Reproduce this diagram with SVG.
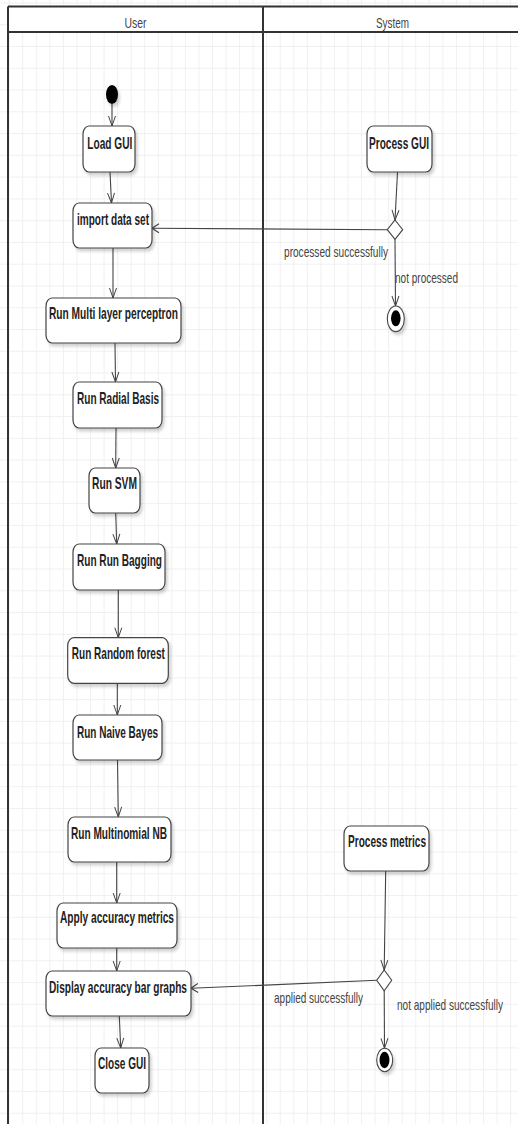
<svg xmlns="http://www.w3.org/2000/svg" width="518" height="1124" viewBox="0 0 518 1124">
  <defs>
    <pattern id="grid" patternUnits="userSpaceOnUse" x="8.75" y="2.46" width="13.55" height="21.77">
      <path d="M0.5,0 V21.77 M0,0.5 H13.55" fill="none" stroke="#f0f0f0" stroke-width="1"/>
    </pattern>
    <filter id="shadow" x="-20%" y="-20%" width="150%" height="150%">
      <feDropShadow dx="2" dy="3" stdDeviation="1.5" flood-color="#000" flood-opacity="0.18"/>
    </filter>
    <marker id="arrV" markerUnits="userSpaceOnUse" markerWidth="12" markerHeight="10" refX="10" refY="4" orient="auto" overflow="visible">
      <path d="M0,0.5 L10,4 L0,7.5" fill="none" stroke="#444" stroke-width="1"/>
    </marker>
    <marker id="arrH" markerUnits="userSpaceOnUse" markerWidth="9" markerHeight="10" refX="7" refY="4.5" orient="auto" overflow="visible">
      <path d="M0,0 L7,4.5 L0,9" fill="none" stroke="#444" stroke-width="1.2"/>
    </marker>
  </defs>
  <style>
    .node rect { fill: #ffffff; stroke: #444; stroke-width: 1.2; filter: url(#shadow); }
    .node text { font-family: "Liberation Sans", Arial, sans-serif; font-weight: bold; font-size: 17px; fill: #222; text-anchor: middle; }
    .lbl { font-family: "Liberation Sans", Arial, sans-serif; font-size: 14.5px; fill: #444; text-anchor: middle; }
    .hdr { font-family: "Liberation Sans", Arial, sans-serif; font-size: 14.5px; fill: #444; text-anchor: middle; }
    .lane { stroke: #333; stroke-width: 2; fill: none; }
    .edge { fill: none; stroke: #444; stroke-width: 1.1; }
    .dia { fill: #fff; stroke: #444; stroke-width: 1.1; }
  </style>
  <rect x="0" y="0" width="518" height="1124" fill="#ffffff"/>
  <rect x="0" y="0" width="518" height="1124" fill="url(#grid)"/>

  <g id="swimlanes">
    <rect x="8" y="6.5" width="520" height="25.5" fill="#ffffff"/>
    <path class="lane" d="M8,6.5 H518 M8,32 H518 M8,6.5 V1124 M263,6.5 V1124"/>
    <text class="hdr" x="135.5" y="28" textLength="22" lengthAdjust="spacingAndGlyphs">User</text>
    <text class="hdr" x="392.5" y="28" textLength="33" lengthAdjust="spacingAndGlyphs">System</text>
  </g>

  <g id="connectors">
    <path class="edge" d="M112,104 L112,126" marker-end="url(#arrV)"/>
    <path class="edge" d="M110,172 L111.5,203" marker-end="url(#arrV)"/>
    <path class="edge" d="M113,248 L113,298" marker-end="url(#arrV)"/>
    <path class="edge" d="M115,343 L115.5,382" marker-end="url(#arrV)"/>
    <path class="edge" d="M116,428 L115.7,468" marker-end="url(#arrV)"/>
    <path class="edge" d="M115.7,513 L116.7,544" marker-end="url(#arrV)"/>
    <path class="edge" d="M118.3,590 L118.3,637.7" marker-end="url(#arrV)"/>
    <path class="edge" d="M117.3,683.3 L117.3,715" marker-end="url(#arrV)"/>
    <path class="edge" d="M117.5,760 L118.3,817" marker-end="url(#arrV)"/>
    <path class="edge" d="M116.7,862 L116.7,903" marker-end="url(#arrV)"/>
    <path class="edge" d="M116.7,948 L116.7,971" marker-end="url(#arrV)"/>
    <path class="edge" d="M119.3,1016 L120.7,1048" marker-end="url(#arrV)"/>
    <path class="edge" d="M397.5,172 L395,220" marker-end="url(#arrV)"/>
    <path class="edge" d="M387.3,229.7 L152,228.3" marker-end="url(#arrH)"/>
    <path class="edge" d="M395,239.3 L395.5,306" marker-end="url(#arrV)"/>
    <path class="edge" d="M385.7,871 L384.2,970" marker-end="url(#arrV)"/>
    <path class="edge" d="M376.7,980.3 L191,988.3" marker-end="url(#arrH)"/>
    <path class="edge" d="M384.2,990.7 L384.5,1048.3" marker-end="url(#arrV)"/>
    <text class="lbl" x="336" y="256.5" textLength="104" lengthAdjust="spacingAndGlyphs">processed successfully</text>
    <text class="lbl" x="426.5" y="283" textLength="63" lengthAdjust="spacingAndGlyphs">not processed</text>
    <text class="lbl" x="318.5" y="1003" textLength="89" lengthAdjust="spacingAndGlyphs">applied successfully</text>
    <text class="lbl" x="450" y="1009.5" textLength="106" lengthAdjust="spacingAndGlyphs">not applied successfully</text>
  </g>

  <g id="start">
    <ellipse cx="112" cy="94.5" rx="6" ry="9.5" fill="#000" filter="url(#shadow)"/>
  </g>
  <g id="load-gui" class="node">
    <rect x="83" y="126" width="52" height="46" rx="6" ry="8"/>
    <text x="109.8" y="148.7" textLength="45" lengthAdjust="spacingAndGlyphs">Load GUI</text>
  </g>
  <g id="import-data-set" class="node">
    <rect x="73" y="203" width="79" height="45" rx="6" ry="8"/>
    <text x="113" y="225.3" textLength="72" lengthAdjust="spacingAndGlyphs">import data set</text>
  </g>
  <g id="run-mlp" class="node">
    <rect x="46" y="298" width="135" height="45" rx="6" ry="8"/>
    <text x="113.5" y="318.7" textLength="129" lengthAdjust="spacingAndGlyphs">Run Multi layer perceptron</text>
  </g>
  <g id="run-radial-basis" class="node">
    <rect x="73" y="382" width="89" height="46" rx="6" ry="8"/>
    <text x="118" y="404.3" textLength="82" lengthAdjust="spacingAndGlyphs">Run Radial Basis</text>
  </g>
  <g id="run-svm" class="node">
    <rect x="89" y="468" width="51" height="45" rx="6" ry="8"/>
    <text x="114.5" y="489.3" textLength="45" lengthAdjust="spacingAndGlyphs">Run SVM</text>
  </g>
  <g id="run-bagging" class="node">
    <rect x="73" y="544" width="92" height="46" rx="6" ry="8"/>
    <text x="119.5" y="566" textLength="85" lengthAdjust="spacingAndGlyphs">Run Run Bagging</text>
  </g>
  <g id="run-random-forest" class="node">
    <rect x="67.7" y="637.7" width="100.6" height="45.6" rx="6" ry="8"/>
    <text x="118.3" y="659.3" textLength="93" lengthAdjust="spacingAndGlyphs">Run Random forest</text>
  </g>
  <g id="run-naive-bayes" class="node">
    <rect x="73" y="715" width="89" height="45" rx="6" ry="8"/>
    <text x="117.5" y="737.7" textLength="81" lengthAdjust="spacingAndGlyphs">Run Naive Bayes</text>
  </g>
  <g id="run-multinomial-nb" class="node">
    <rect x="68" y="817" width="103" height="45" rx="6" ry="8"/>
    <text x="119" y="838.7" textLength="96" lengthAdjust="spacingAndGlyphs">Run Multinomial NB</text>
  </g>
  <g id="apply-accuracy-metrics" class="node">
    <rect x="57" y="903" width="120" height="45" rx="6" ry="8"/>
    <text x="117" y="923.3" textLength="114" lengthAdjust="spacingAndGlyphs">Apply accuracy metrics</text>
  </g>
  <g id="display-bar-graphs" class="node">
    <rect x="46" y="971" width="145" height="45" rx="6" ry="8"/>
    <text x="118" y="993.3" textLength="138" lengthAdjust="spacingAndGlyphs">Display accuracy bar graphs</text>
  </g>
  <g id="close-gui" class="node">
    <rect x="95" y="1048" width="54" height="45" rx="6" ry="8"/>
    <text x="122" y="1068.7" textLength="48" lengthAdjust="spacingAndGlyphs">Close GUI</text>
  </g>
  <g id="process-gui" class="node">
    <rect x="367" y="126" width="65" height="46" rx="6" ry="8"/>
    <text x="399" y="148.7" textLength="60" lengthAdjust="spacingAndGlyphs">Process GUI</text>
  </g>
  <g id="process-metrics" class="node">
    <rect x="344" y="826" width="85" height="45" rx="6" ry="8"/>
    <text x="387" y="847" textLength="78" lengthAdjust="spacingAndGlyphs">Process metrics</text>
  </g>
  <g id="decision-gui">
    <path class="dia" d="M395,220 L402.7,229.7 L395,239.3 L387.3,229.7 Z"/>
  </g>
  <g id="decision-metrics">
    <path class="dia" d="M384.2,970 L391.7,980.3 L384.2,990.7 L376.7,980.3 Z"/>
  </g>
  <g id="final-gui">
    <ellipse cx="395.8" cy="318.8" rx="8.5" ry="12.8" fill="#fff" stroke="#444" stroke-width="1.1" filter="url(#shadow)"/>
    <ellipse cx="395.8" cy="318.3" rx="4.8" ry="8" fill="#000"/>
  </g>
  <g id="final-metrics">
    <ellipse cx="384.7" cy="1060" rx="8" ry="11.7" fill="#fff" stroke="#444" stroke-width="1.1" filter="url(#shadow)"/>
    <ellipse cx="384.5" cy="1060" rx="5" ry="8.3" fill="#000"/>
  </g>
</svg>
